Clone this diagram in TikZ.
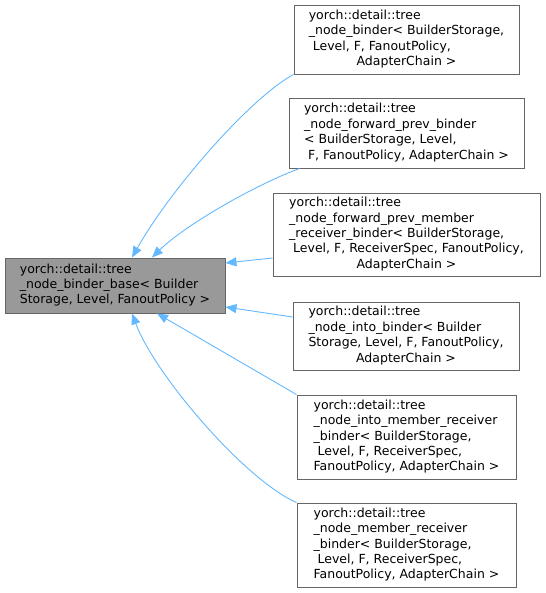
\documentclass[tikz,border=0pt]{standalone}
\usepackage{fontspec}
\setmainfont{DejaVu Sans}
\usepackage{xcolor}
\usetikzlibrary{arrows.meta}

\definecolor{edgeblue}{HTML}{63B8FF}
\definecolor{boxline}{HTML}{666666}
\definecolor{basefill}{HTML}{999999}

\tikzset{
    cls/.style={draw=boxline, line width=0.9pt, fill=white, inner sep=0pt,
        font=\fontsize{12.5}{15.4}\selectfont},
    inherit/.style={draw=edgeblue, line width=0.9pt, -{Triangle[length=11pt,width=9pt]}}
}

\begin{document}
\begin{tikzpicture}[x=1pt,y=-1pt]
        \useasboundingbox (0,0) rectangle (545,593);
        % base class
        \node[cls, fill=basefill, minimum width=220pt, minimum height=55pt] (base) at (115,285.5)
            {\begin{tabular}{@{}l@{}}yorch::detail::tree\\ \_node\_binder\_base< Builder\\ Storage, Level, FanoutPolicy >\end{tabular}};
        % derived classes
        \node[cls, minimum width=225pt, minimum height=69pt] (b1) at (406.5,39.5)
            {\begin{tabular}{@{}l@{}}yorch::detail::tree\\ \_node\_binder< BuilderStorage,\\ \ Level, F, FanoutPolicy,\\ \multicolumn{1}{@{}c@{}}{AdapterChain >}\end{tabular}};
        \node[cls, minimum width=235pt, minimum height=70pt] (b2) at (406.5,133)
            {\begin{tabular}{@{}l@{}}yorch::detail::tree\\ \_node\_forward\_prev\_binder\\ < BuilderStorage, Level,\\ \multicolumn{1}{@{}c@{}}{\ F, FanoutPolicy, AdapterChain >}\end{tabular}};
        \node[cls, minimum width=267pt, minimum height=83pt] (b3) at (406.5,234.5)
            {\begin{tabular}{@{}l@{}}yorch::detail::tree\\ \_node\_forward\_prev\_member\\ \_receiver\_binder< BuilderStorage,\\ \ Level, F, ReceiverSpec, FanoutPolicy,\\ \multicolumn{1}{@{}c@{}}{AdapterChain >}\end{tabular}};
        \node[cls, minimum width=226pt, minimum height=68pt] (b4) at (406,336)
            {\begin{tabular}{@{}l@{}}yorch::detail::tree\\ \_node\_into\_binder< Builder\\ Storage, Level, F, FanoutPolicy,\\ \multicolumn{1}{@{}c@{}}{AdapterChain >}\end{tabular}};
        \node[cls, minimum width=219pt, minimum height=84pt] (b5) at (406.5,437)
            {\begin{tabular}{@{}l@{}}yorch::detail::tree\\ \_node\_into\_member\_receiver\\ \_binder< BuilderStorage,\\ \ Level, F, ReceiverSpec,\\ \multicolumn{1}{@{}c@{}}{FanoutPolicy, AdapterChain >}\end{tabular}};
        \node[cls, minimum width=219pt, minimum height=84pt] (b6) at (406.5,545)
            {\begin{tabular}{@{}l@{}}yorch::detail::tree\\ \_node\_member\_receiver\\ \_binder< BuilderStorage,\\ \ Level, F, ReceiverSpec,\\ \multicolumn{1}{@{}c@{}}{FanoutPolicy, AdapterChain >}\end{tabular}};
        % inheritance arrows
        \draw[inherit] (b1.south west) .. controls (250,98) and (170,190) .. ([xshift=17pt]base.north);
        \draw[inherit] ([xshift=11pt]b2.south west) .. controls (255,185) and (185,225) .. ([xshift=37pt]base.north);
        \draw[inherit] ([yshift=-23.5pt]b3.west) -- ([yshift=22.5pt]base.east);
        \draw[inherit] ([yshift=19pt]b4.west) -- ([yshift=-21.5pt]base.east);
        \draw[inherit] (b5.north west) -- ([xshift=42pt]base.south);
        \draw[inherit] (b6.north west) .. controls (245,480) and (155,375) .. ([xshift=17pt]base.south);
    \end{tikzpicture}
\end{document}
